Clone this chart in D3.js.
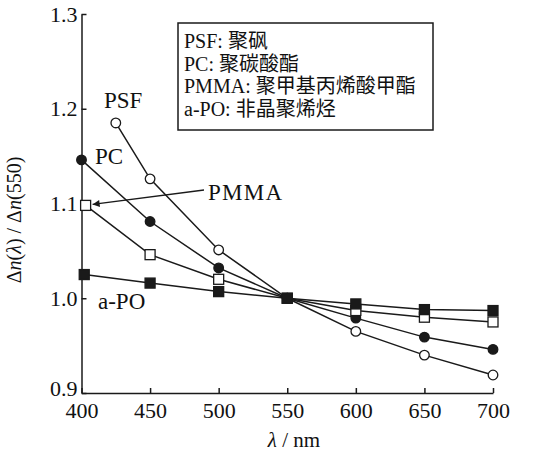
<!DOCTYPE html>
<html>
<head>
<meta charset="utf-8">
<script src="https://cdn.jsdelivr.net/npm/d3@7"></script>
<style>
  body { margin: 0; background: #fff; }
  svg text { font-family: "Liberation Serif", "Noto Sans CJK SC", serif; fill: #111; }
</style>
</head>
<body>
<div id="chart"></div>
<script>
// data
const xTicks = [400, 450, 500, 550, 600, 650, 700];
const yTicks = [0.9, 1.0, 1.1, 1.2, 1.3];

const psfX = [425, 450, 500, 550, 600, 650, 700];
const psfY = [1.185, 1.126, 1.051, 1.0, 0.965, 0.940, 0.919];
const pcX = [400, 450, 500, 550, 600, 650, 700];
const pcY = [1.146, 1.081, 1.032, 1.0, 0.979, 0.959, 0.946];
const pmmaX = [403, 450, 500, 550, 600, 650, 700];
const pmmaY = [1.098, 1.046, 1.020, 1.0, 0.987, 0.980, 0.975];
const apoX = [402, 450, 500, 550, 600, 650, 700];
const apoY = [1.025, 1.016, 1.007, 1.0, 0.994, 0.988, 0.987];

const legendLines = ['PSF: 聚砜', 'PC: 聚碳酸酯', 'PMMA: 聚甲基丙烯酸甲酯', 'a-PO: 非晶聚烯烃'];

const width = 533, height = 460;
const svg = d3.select('#chart').append('svg')
    .attr('width', width)
    .attr('height', height);

const x = d3.scaleLinear().domain([400, 700]).range([81.5, 493]);
const y = d3.scaleLinear().domain([0.9, 1.3]).range([393, 14]);

const ink = '#1a1a1a';

//axes
const xAxis = svg.append('g')
    .attr('transform', `translate(0, ${y(0.9)})`)
    .call(d3.axisBottom(x).tickValues(xTicks).tickSizeInner(-5).tickSizeOuter(0).tickPadding(9));
const yAxis = svg.append('g')
    .attr('transform', `translate(${x(400)}, 0)`)
    .call(d3.axisLeft(y).tickValues(yTicks).tickFormat(d3.format('.1f')).tickSizeInner(-5).tickSizeOuter(0).tickPadding(4));

[xAxis, yAxis].forEach(ax => {
    ax.selectAll('path, line').attr('stroke', ink).attr('stroke-width', 1.5);
    ax.selectAll('text').attr('font-size', 22).attr('fill', ink)
        .style('font-family', '"Liberation Serif", serif');
});
// bottom y label sits a little above its tick, clear of the 400 label
yAxis.selectAll('.tick text').filter(d => d === 0.9).attr('dy', '0.1em');

//axis titles
const xTitle = svg.append('text')
    .attr('x', 294).attr('y', 447)
    .attr('text-anchor', 'middle')
    .attr('font-size', 21);
xTitle.append('tspan').attr('font-style', 'italic').text('λ');
xTitle.append('tspan').text(' / nm');

const yTitle = svg.append('text')
    .attr('transform', 'translate(21, 220) rotate(-90)')
    .attr('text-anchor', 'middle')
    .attr('font-size', 20);
yTitle.append('tspan').text('Δ');
yTitle.append('tspan').attr('font-style', 'italic').text('n');
yTitle.append('tspan').text('(');
yTitle.append('tspan').attr('font-style', 'italic').text('λ');
yTitle.append('tspan').text(') / Δ');
yTitle.append('tspan').attr('font-style', 'italic').text('n');
yTitle.append('tspan').text('(550)');

//series
const series = [
    { xs: psfX, ys: psfY, shape: 'circle', fill: '#fff' },
    { xs: pcX, ys: pcY, shape: 'circle', fill: ink },
    { xs: pmmaX, ys: pmmaY, shape: 'square', fill: '#fff' },
    { xs: apoX, ys: apoY, shape: 'square', fill: ink }
];

const line = d3.line().x(d => x(d[0])).y(d => y(d[1]));

series.forEach(s => {
    const pts = s.xs.map((v, i) => [v, s.ys[i]]);
    svg.append('path')
        .attr('d', line(pts))
        .attr('fill', 'none')
        .attr('stroke', ink)
        .attr('stroke-width', 1.5);
});

series.forEach(s => {
    const pts = s.xs.map((v, i) => [v, s.ys[i]]);
    const g = svg.append('g');
    if (s.shape === 'circle') {
        g.selectAll('circle').data(pts).enter().append('circle')
            .attr('cx', d => x(d[0])).attr('cy', d => y(d[1]))
            .attr('r', 4.8)
            .attr('fill', s.fill)
            .attr('stroke', ink).attr('stroke-width', 1.3);
    } else {
        g.selectAll('rect').data(pts).enter().append('rect')
            .attr('x', d => x(d[0]) - 5).attr('y', d => y(d[1]) - 5)
            .attr('width', 10).attr('height', 10)
            .attr('fill', s.fill)
            .attr('stroke', ink).attr('stroke-width', 1.3);
    }
});

//series labels
const labels = [
    { text: 'PSF', lx: 104, ly: 108 },
    { text: 'PC', lx: 95, ly: 164 },
    { text: 'PMMA', lx: 208, ly: 200 },
    { text: 'a-PO', lx: 98, ly: 309 }
];
svg.selectAll('.series-label').data(labels).enter().append('text')
    .attr('class', 'series-label')
    .attr('x', d => d.lx).attr('y', d => d.ly)
    .attr('font-size', 23)
    .attr('textLength', d => d.text === 'PMMA' ? 74 : null)
    .text(d => d.text);

//arrow from PMMA label to its first point
svg.append('defs').append('marker')
    .attr('id', 'arrow')
    .attr('viewBox', '0 0 10 10')
    .attr('refX', 10).attr('refY', 5)
    .attr('markerWidth', 10).attr('markerHeight', 7)
    .attr('markerUnits', 'userSpaceOnUse')
    .attr('orient', 'auto')
  .append('path')
    .attr('d', 'M0,0 L10,5 L0,10 Z')
    .attr('fill', ink);

svg.append('line')
    .attr('x1', 204).attr('y1', 190)
    .attr('x2', x(pmmaX[0]) + 7).attr('y2', y(pmmaY[0]) - 1)
    .attr('stroke', ink).attr('stroke-width', 1.3)
    .attr('marker-end', 'url(#arrow)');

//legend box
const legend = svg.append('g').attr('transform', 'translate(178, 23)');
legend.append('rect')
    .attr('width', 255).attr('height', 107)
    .attr('fill', '#fff')
    .attr('stroke', ink).attr('stroke-width', 1.5);
legend.selectAll('text').data(legendLines).enter().append('text')
    .attr('x', 6)
    .attr('y', (d, i) => 25 + i * 22.6)
    .attr('font-size', 20)
    .text(d => d);
</script>
</body>
</html>
